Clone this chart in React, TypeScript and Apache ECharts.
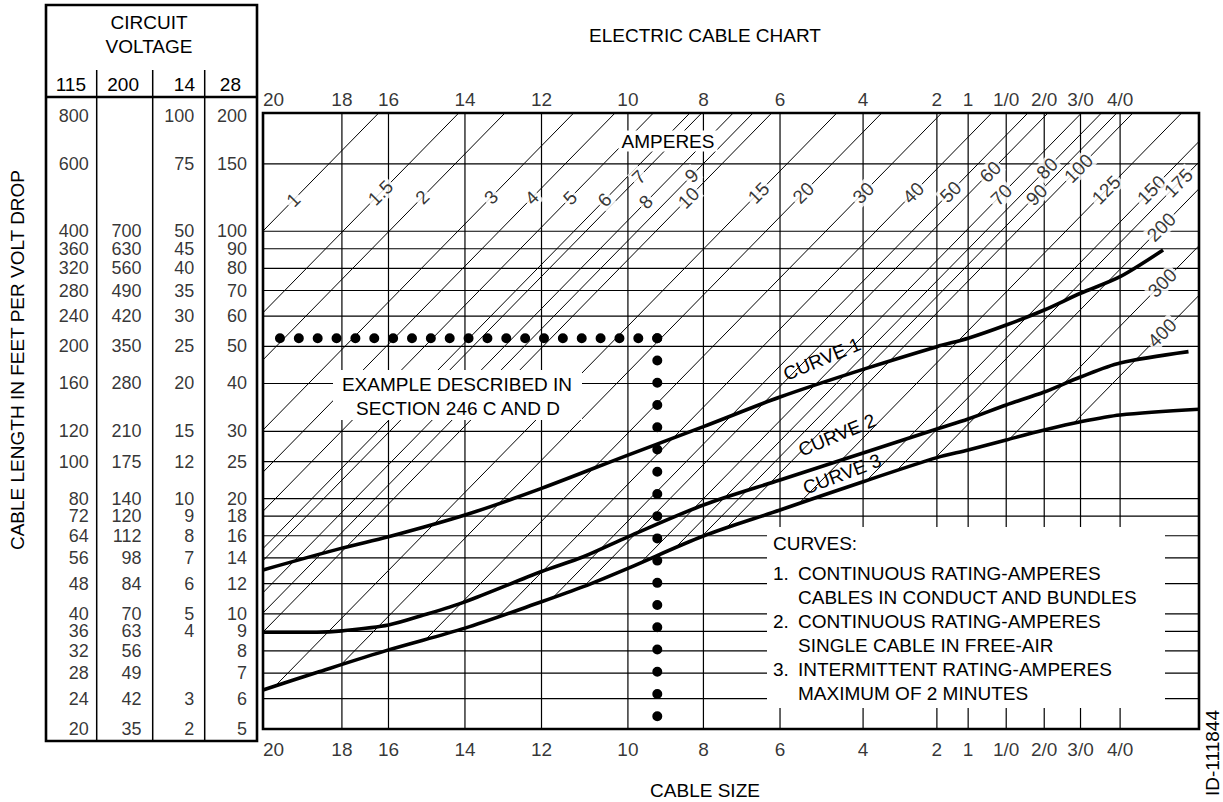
import React, { useEffect, useRef } from "react";
import * as echarts from "echarts";

// ---------------- data ----------------
// cable sizes and the (relative) conductor resistance at which each size sits on the log scale
const gaugeNames = ["20", "18", "16", "14", "12", "10", "8", "6", "4", "2", "1", "1/0", "2/0", "3/0", "4/0"];
const gaugeResistance = [9.4, 5.79, 4.35, 2.72, 1.7, 1.0, 0.629, 0.393, 0.236, 0.15, 0.1238, 0.098, 0.0776, 0.0621, 0.0487];

// circuit-voltage table: cable length in feet per volt drop (rows follow the 115 V column)
const voltageColumns = ["115", "200", "14", "28"];
const lengthRows115 = [800, 600, 400, 360, 320, 280, 240, 200, 160, 120, 100, 80, 72, 64, 56, 48, 40, 36, 32, 28, 24, 20];
const lengthRows200 = [null, null, 700, 630, 560, 490, 420, 350, 280, 210, 175, 140, 120, 112, 98, 84, 70, 63, 56, 49, 42, 35];
const lengthRows14 = [100, 75, 50, 45, 40, 35, 30, 25, 20, 15, 12, 10, 9, 8, 7, 6, 5, 4, null, null, 3, 2];
const lengthRows28 = [200, 150, 100, 90, 80, 70, 60, 50, 40, 30, 25, 20, 18, 16, 14, 12, 10, 9, 8, 7, 6, 5];

// ampere lines: length x resistance is constant along each line
const ampereValues = ["1", "1.5", "2", "3", "4", "5", "6", "7", "8", "9", "10", "15", "20", "30", "40", "50", "60", "70", "80", "90", "100", "125", "150", "175", "200", "300", "400"];
const ampereLineConstant = [3765, 2303, 1734, 1137, 882, 697, 557, 518, 427, 378, 337, 226, 171.5, 118.7, 87.3, 69.9, 61.8, 50.3, 44.5, 40.5, 36.7, 27.2, 20.6, 18.2, 15.5, 11.0, 8.16];
const ampereLabelLength = [483, 504, 491, 491, 489, 489, 483, 554, 477, 559, 489, 504, 504, 504, 504, 507, 572, 498, 584, 498, 584, 513, 513, 535, 410, 293, 217];

// rating curves: [resistance, length (115 V scale)]
const curve1Points = [
  [9.4, 52.1], [5.79, 59.4], [4.35, 63.6], [2.72, 72.5], [1.7, 85.1], [1.0, 104], [0.629, 123.4], [0.393, 147.5],
  [0.236, 174.2], [0.15, 199.7], [0.1238, 210.1], [0.098, 227.5], [0.0776, 249], [0.0621, 275.4], [0.0487, 304.3], [0.0374, 357.4],
];
const curve2Points = [
  [9.4, 35.8], [6.76, 35.8], [5.79, 36.1], [4.35, 37.4], [3.51, 39.7], [2.72, 43.0], [1.7, 51.6], [1.315, 56.4], [1.0, 63.6],
  [0.629, 77.0], [0.393, 89.5], [0.236, 105.3], [0.15, 121.7], [0.1238, 129.2], [0.098, 140.6], [0.0776, 152.0], [0.0621, 166.4],
  [0.0487, 181.0], [0.032, 193.8],
];
const curve3Points = [
  [9.4, 25.3], [6.76, 28.1], [4.35, 32.2], [2.72, 36.7], [1.7, 43.0], [1.315, 47.1], [1.0, 52.6], [0.629, 63.9], [0.393, 74.7],
  [0.236, 88.6], [0.15, 102.4], [0.1238, 107.2], [0.098, 113.9], [0.0776, 120.9], [0.0621, 127.1], [0.0487, 132.4], [0.03, 137.0],
];

// worked example (dotted)
const exampleLength = 210;
const exampleResistance = 0.835;
const exampleStartResistance = 8.47;
const exampleEndLength = 21.5;

// axis ranges
const resistanceRange = [0.03, 9.4];
const lengthRange = [20, 815];

// ---------------- layout / style ----------------
const FONT = '"Liberation Sans", Arial, Helvetica, sans-serif';
const FS = 19;
const TABLE_FS = 18;
const PLOT = { left: 263, top: 113, width: 936, height: 616 };
const TABLE = { left: 46, top: 5, width: 211, height: 736 };

function buildOption(): any {
  const [xMin, xMax] = resistanceRange;
  const [yMin, yMax] = lengthRange;
  const series: any[] = [];
  const base = { xAxisIndex: 0, yAxisIndex: 0, silent: true, animation: false };

  // ampere diagonals (clipped to plot)
  ampereLineConstant.forEach((c) => {
    series.push({
      ...base, type: "line", z: 1, symbol: "none", clip: true,
      lineStyle: { color: "#000", width: 1 },
      data: [[xMax, c / xMax], [xMin, c / xMin]],
    });
  });

  // white area below curve 3 (no ampere lines there)
  series.push({
    ...base, type: "line", z: 2, symbol: "none", smooth: 0.3, clip: true,
    lineStyle: { opacity: 0 },
    areaStyle: { color: "#fff", opacity: 1, origin: "start" },
    data: curve3Points,
  });

  // vertical gauge lines
  gaugeResistance.forEach((r) => {
    series.push({
      ...base, type: "line", z: 3, symbol: "none",
      lineStyle: { color: "#000", width: 1.2 },
      data: [[r, yMin], [r, yMax]],
    });
  });

  // horizontal length lines
  lengthRows115.slice(1, -1).forEach((l) => {
    series.push({
      ...base, type: "line", z: 3, symbol: "none",
      lineStyle: { color: "#000", width: 1.2 },
      data: [[xMax, l], [xMin, l]],
    });
  });

  // rating curves
  [curve1Points, curve2Points, curve3Points].forEach((pts) => {
    series.push({
      ...base, type: "line", z: 4, symbol: "none", smooth: 0.3,
      lineStyle: { color: "#000", width: 3.6 },
      data: pts,
    });
  });

  // example dotted lines
  series.push({
    ...base, type: "line", z: 5, symbol: "none",
    lineStyle: { color: "#000", width: 10, type: [0, 18.86], cap: "round" },
    data: [[exampleStartResistance, exampleLength], [exampleResistance, exampleLength]],
  });
  series.push({
    ...base, type: "line", z: 5, symbol: "none",
    lineStyle: { color: "#000", width: 10, type: [0, 22.23], cap: "round" },
    data: [[exampleResistance, exampleLength], [exampleResistance, exampleEndLength]],
  });

  // ampere labels
  series.push({
    ...base, type: "scatter", z: 6, symbolSize: 0, clip: false,
    data: ampereValues.map((a, i) => ({
      value: [ampereLineConstant[i] / ampereLabelLength[i], ampereLabelLength[i]],
      name: a,
    })),
    label: {
      show: true, position: "inside", rotate: 45, formatter: "{b}", color: "#000",
      fontSize: FS, fontFamily: FONT, backgroundColor: "#fff", padding: [0, 2],
    },
  });

  // gauge labels, top and bottom
  const gaugeData = (len: number) =>
    gaugeNames.map((n, i) => ({
      value: [gaugeResistance[i], len],
      name: n,
      label: i === 0 ? { align: "left" } : undefined,
    }));
  series.push({
    ...base, type: "scatter", z: 6, symbolSize: 0, clip: false,
    data: gaugeData(yMax),
    label: { show: true, position: "top", distance: 4, formatter: "{b}", color: "#000", fontSize: FS, fontFamily: FONT },
  });
  series.push({
    ...base, type: "scatter", z: 6, symbolSize: 0, clip: false,
    data: gaugeData(yMin),
    label: { show: true, position: "bottom", distance: 11, formatter: "{b}", color: "#000", fontSize: FS, fontFamily: FONT },
  });

  // voltage table values (second grid)
  [lengthRows115, lengthRows200, lengthRows14, lengthRows28].forEach((col, ci) => {
    const data: any[] = [];
    col.forEach((v, ri) => {
      if (v != null) data.push({ value: [ci + 1, lengthRows115[ri]], name: String(v) });
    });
    series.push({
      type: "scatter", xAxisIndex: 1, yAxisIndex: 1, silent: true, z: 6, symbolSize: 0, clip: false,
      data,
      label: { show: true, position: "left", distance: 10, formatter: "{b}", color: "#000", fontSize: TABLE_FS, fontFamily: FONT, lineHeight: 16 },
    });
  });

  const txt = (text: string, x: number, y: number, extra: any = {}, styleExtra: any = {}) => ({
    type: "text", x, y, z: 20, silent: true, ...extra,
    style: {
      text, fill: "#000", fontSize: FS, fontFamily: FONT,
      textAlign: "center", textVerticalAlign: "middle", align: "center", verticalAlign: "middle",
      ...styleExtra,
    },
  });
  const left = { textAlign: "left", align: "left" };
  const right = { textAlign: "right", align: "right" };
  const deg = (d: number) => (d * Math.PI) / 180;
  const colRight = [86, 139, 195, 241];
  const colSep = [96.7, 152.7, 204.7];

  const graphic: any[] = [
    // plot frame
    { type: "rect", z: 15, silent: true, shape: { x: PLOT.left, y: PLOT.top, width: PLOT.width, height: PLOT.height }, style: { fill: "none", stroke: "#000", lineWidth: 2.6 } },
    // table frame
    { type: "rect", z: 15, silent: true, shape: { x: TABLE.left, y: TABLE.top, width: TABLE.width, height: TABLE.height }, style: { fill: "none", stroke: "#000", lineWidth: 2.6 } },
    { type: "line", z: 15, silent: true, shape: { x1: TABLE.left, y1: 97, x2: TABLE.left + TABLE.width, y2: 97 }, style: { stroke: "#000", lineWidth: 2.4 } },
    ...colSep.map((x) => ({ type: "line", z: 15, silent: true, shape: { x1: x, y1: 70, x2: x, y2: TABLE.top + TABLE.height }, style: { stroke: "#000", lineWidth: 1.5 } })),
    txt("CIRCUIT", 149, 22),
    txt("VOLTAGE", 149, 46),
    ...voltageColumns.map((v, i) => txt(v, colRight[i], 84, {}, right)),
    // titles
    txt("ELECTRIC CABLE CHART", 705, 35),
    txt("CABLE SIZE", 705, 790),
    txt("CABLE LENGTH IN FEET PER VOLT DROP", 17, 360, { rotation: deg(90) }),
    txt("ID-111844", 1212, 753, { rotation: deg(90) }),
    // AMPERES
    txt("AMPERES", 668, 141, {}, { backgroundColor: "#fff", padding: [1, 3] }),
    // example box
    { type: "rect", z: 18, silent: true, shape: { x: 333, y: 370, width: 249, height: 50 }, style: { fill: "#fff" } },
    txt("EXAMPLE DESCRIBED IN", 457, 384),
    txt("SECTION 246 C AND D", 458, 408),
    // curve labels
    txt("CURVE 1", 822, 359, { rotation: deg(22.8) }),
    txt("CURVE 2", 837, 435, { rotation: deg(22.6) }),
    txt("CURVE 3", 842, 474, { rotation: deg(20.8) }),
    // legend box
    { type: "rect", z: 18, silent: true, shape: { x: 767, y: 527, width: 398, height: 181 }, style: { fill: "#fff" } },
    txt("CURVES:", 773, 543, {}, left),
    txt("1.", 773, 573, {}, left),
    txt("CONTINUOUS RATING-AMPERES", 798, 573, {}, left),
    txt("CABLES IN CONDUCT AND BUNDLES", 798, 597, {}, left),
    txt("2.", 773, 621, {}, left),
    txt("CONTINUOUS RATING-AMPERES", 798, 621, {}, left),
    txt("SINGLE CABLE IN FREE-AIR", 798, 645, {}, left),
    txt("3.", 773, 669, {}, left),
    txt("INTERMITTENT RATING-AMPERES", 798, 669, {}, left),
    txt("MAXIMUM OF 2 MINUTES", 798, 693, {}, left),
  ];

  return {
    animation: false,
    backgroundColor: "#fff",
    textStyle: { fontFamily: FONT },
    grid: [
      { left: PLOT.left, top: PLOT.top, width: PLOT.width, height: PLOT.height, show: false },
      { left: TABLE.left, top: PLOT.top, width: TABLE.width, height: PLOT.height, show: false },
    ],
    xAxis: [
      { type: "log", logBase: 10, inverse: true, min: xMin, max: xMax, gridIndex: 0, show: false },
      { type: "value", min: 0, max: 4, gridIndex: 1, show: false },
    ],
    yAxis: [
      { type: "log", logBase: 10, min: yMin, max: yMax, gridIndex: 0, show: false },
      { type: "log", logBase: 10, min: yMin, max: yMax, gridIndex: 1, show: false },
    ],
    series,
    graphic: { elements: graphic },
  };
}

export default function App() {
  const ref = useRef<HTMLDivElement>(null);
  useEffect(() => {
    if (!ref.current) return;
    const chart = echarts.init(ref.current, undefined, { renderer: "svg" });
    chart.setOption(buildOption());
    return () => chart.dispose();
  }, []);
  return (
    <div
      ref={ref}
      style={{ position: "fixed", left: 0, top: 0, width: 1223, height: 802, background: "#fff" }}
    />
  );
}
